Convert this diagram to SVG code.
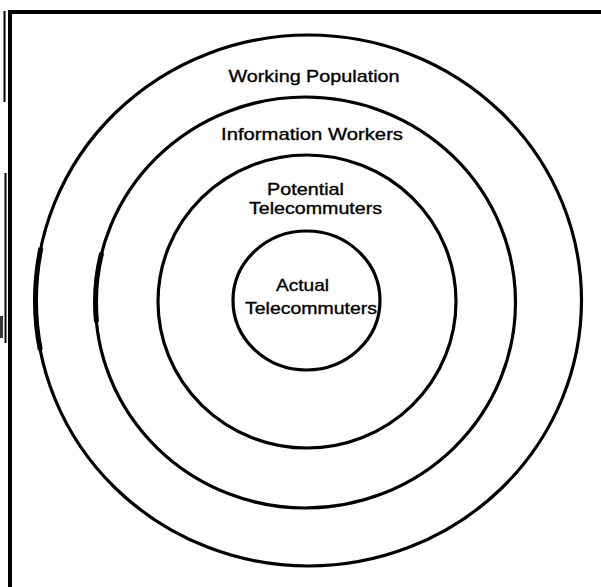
<svg xmlns="http://www.w3.org/2000/svg" width="601" height="587" viewBox="0 0 601 587">
<style>
.ring{fill:none;stroke:#000;stroke-width:3.2}
.thick{fill:none;stroke:#000;stroke-width:5}
.lbl{font-family:"Liberation Sans",Arial,sans-serif;font-size:17px;fill:#000;stroke:#000;stroke-width:0.35;text-anchor:middle}
</style>
<rect width="601" height="587" fill="#fff"/>
<g id="frame">
<path d="M10 587 V12 H601" fill="none" stroke="#000" stroke-width="4"/>
<line x1="4.5" y1="11" x2="4.5" y2="102" stroke="#000" stroke-width="2"/>
<line x1="5.5" y1="173" x2="5.5" y2="343" stroke="#000" stroke-width="2"/>
<rect x="0" y="316" width="3" height="22" fill="#333"/>
</g>
<g id="working-population">
<ellipse class="ring" cx="308.5" cy="300.5" rx="273" ry="265.5"/>
<path class="thick" d="M40.9 248 A273 265.5 0 0 0 40.3 350"/>
<text class="lbl" x="314" y="82" textLength="171" lengthAdjust="spacingAndGlyphs">Working Population</text>
</g>
<g id="information-workers">
<ellipse class="ring" cx="305.5" cy="302.5" rx="210" ry="205.5"/>
<path class="thick" d="M101.6 253 A210 205.5 0 0 0 96.5 322"/>
<text class="lbl" x="312" y="140" textLength="182" lengthAdjust="spacingAndGlyphs">Information Workers</text>
</g>
<g id="potential-telecommuters">
<ellipse class="ring" cx="307" cy="301.5" rx="149" ry="146.5"/>
<text class="lbl" x="305.5" y="195" textLength="77" lengthAdjust="spacingAndGlyphs">Potential</text>
<text class="lbl" x="315.5" y="214" textLength="133" lengthAdjust="spacingAndGlyphs">Telecommuters</text>
</g>
<g id="actual-telecommuters">
<ellipse class="ring" cx="306.5" cy="300.5" rx="73.5" ry="69.5"/>
<text class="lbl" x="302.5" y="291" textLength="53" lengthAdjust="spacingAndGlyphs">Actual</text>
<text class="lbl" x="311" y="314" textLength="132" lengthAdjust="spacingAndGlyphs">Telecommuters</text>
</g>
<g id="connectors"></g>
</svg>
